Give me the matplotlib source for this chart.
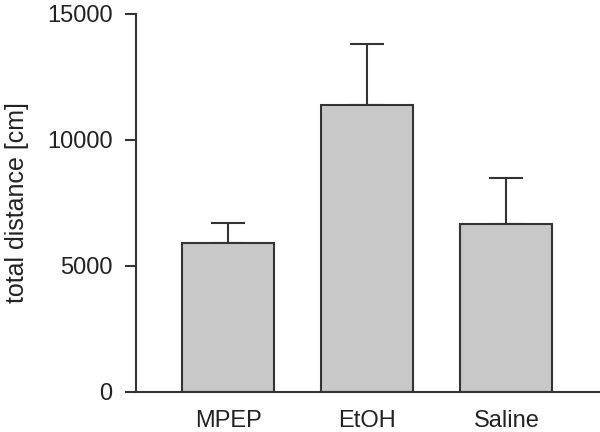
import matplotlib
matplotlib.use("Agg")
import matplotlib.pyplot as plt

categories = ["MPEP", "EtOH", "Saline"]
means = [5900, 11370, 6670]
upper_err = [780, 2425, 1815]
yticks = [0, 5000, 10000, 15000]

plt.rcParams['font.family'] = ['Liberation Sans', 'DejaVu Sans']
dark = "#333333"

fig = plt.figure(figsize=(6, 4.32), dpi=100)
ax = fig.add_axes([136/600, 1 - 391.7/432, (600-136)/600, (391.7-13.5)/432])

x = list(range(len(categories)))
ax.bar(x, means, width=0.662, color="#c8c8c8", edgecolor=dark, linewidth=1.5, zorder=2)
ax.errorbar(x, means, yerr=[[0]*len(means), upper_err], fmt="none", ecolor=dark,
            elinewidth=1.5, capsize=12, capthick=1.5, zorder=1)

ax.set_xlim(-0.665, 2.673)
ax.set_ylim(0, 15000)
ax.set_yticks(yticks)
ax.set_yticklabels([str(v) for v in yticks])
ax.set_xticks(x)
ax.set_xticklabels(categories)
for s in ["top", "right"]:
    ax.spines[s].set_visible(False)
for s in ["left", "bottom"]:
    ax.spines[s].set_color(dark)
    ax.spines[s].set_linewidth(1.5)
ax.tick_params(axis="y", length=8, width=1.5, color=dark, labelsize=17, labelcolor="#222222", pad=9)
ax.tick_params(axis="x", length=0, labelsize=17, labelcolor="#222222", pad=13)
ax.set_ylabel("total distance [cm]", fontsize=18, color="#222222")
ax.yaxis.set_label_coords(-(136-17)/464, 0.5)
ax.yaxis.label.set_verticalalignment("center")

fig.savefig("out.png", dpi=100)
